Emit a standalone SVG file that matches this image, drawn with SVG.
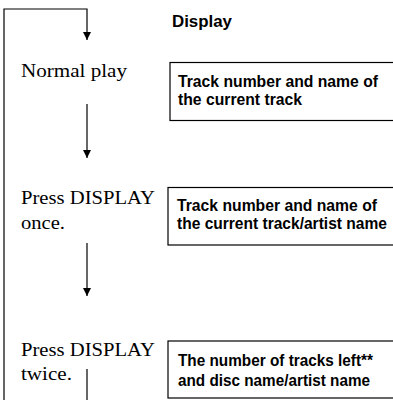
<svg xmlns="http://www.w3.org/2000/svg" width="393" height="400" viewBox="0 0 393 400">
<style>
.ln{stroke:#000;stroke-width:1.2;fill:none}
.box{stroke:#000;stroke-width:1.2;fill:#fff}
.lbl{font-family:"Liberation Serif","Times New Roman",serif;font-size:18px;fill:#000}
.bt{font-family:"Liberation Sans",Arial,sans-serif;font-size:17px;font-weight:bold;fill:#000}
.hd{font-family:"Liberation Sans",Arial,sans-serif;font-size:16px;font-weight:bold;fill:#000}
</style>
<defs>
<marker id="ah" markerWidth="8" markerHeight="8" refX="8" refY="4" orient="auto" markerUnits="userSpaceOnUse">
<path d="M0,0 L8,4 L0,8 Z" fill="#000"/>
</marker>
</defs>
<g id="connectors">
<path class="ln" d="M4,400 V9 H87 V40" marker-end="url(#ah)"/>
<path class="ln" d="M87,104 V158" marker-end="url(#ah)"/>
<path class="ln" d="M87,243 V296" marker-end="url(#ah)"/>
<path class="ln" d="M87,369 V400"/>
</g>
<g id="header"><text class="hd" x="172" y="27" textLength="60" lengthAdjust="spacingAndGlyphs">Display</text></g>
<g id="normal-play">
<text class="lbl" x="21" y="77" textLength="106" lengthAdjust="spacingAndGlyphs">Normal play</text>
</g>
<g id="display-1">
<rect class="box" x="170" y="62.5" width="240" height="58"/>
<text class="bt" x="178" y="87" textLength="200" lengthAdjust="spacingAndGlyphs">Track number and name of</text>
<text class="bt" x="178" y="105" textLength="124" lengthAdjust="spacingAndGlyphs">the current track</text>
</g>
<g id="press-once">
<text class="lbl" x="21" y="204" textLength="134" lengthAdjust="spacingAndGlyphs">Press DISPLAY</text>
<text class="lbl" x="21" y="229" textLength="44" lengthAdjust="spacingAndGlyphs">once.</text>
</g>
<g id="display-2">
<rect class="box" x="168" y="187.5" width="240" height="57.5"/>
<text class="bt" x="177" y="211" textLength="200" lengthAdjust="spacingAndGlyphs">Track number and name of</text>
<text class="bt" transform="translate(177,229) scale(0.915,1)" x="0" y="0">the current track/artist name</text>
</g>
<g id="press-twice">
<text class="lbl" x="21" y="356" textLength="134" lengthAdjust="spacingAndGlyphs">Press DISPLAY</text>
<text class="lbl" x="21" y="380" textLength="51" lengthAdjust="spacingAndGlyphs">twice.</text>
</g>
<g id="display-3">
<rect class="box" x="168" y="341" width="240" height="57"/>
<text class="bt" x="178" y="366" textLength="195" lengthAdjust="spacingAndGlyphs">The number of tracks left**</text>
<text class="bt" x="178" y="386" textLength="192" lengthAdjust="spacingAndGlyphs">and disc name/artist name</text>
</g>
</svg>
